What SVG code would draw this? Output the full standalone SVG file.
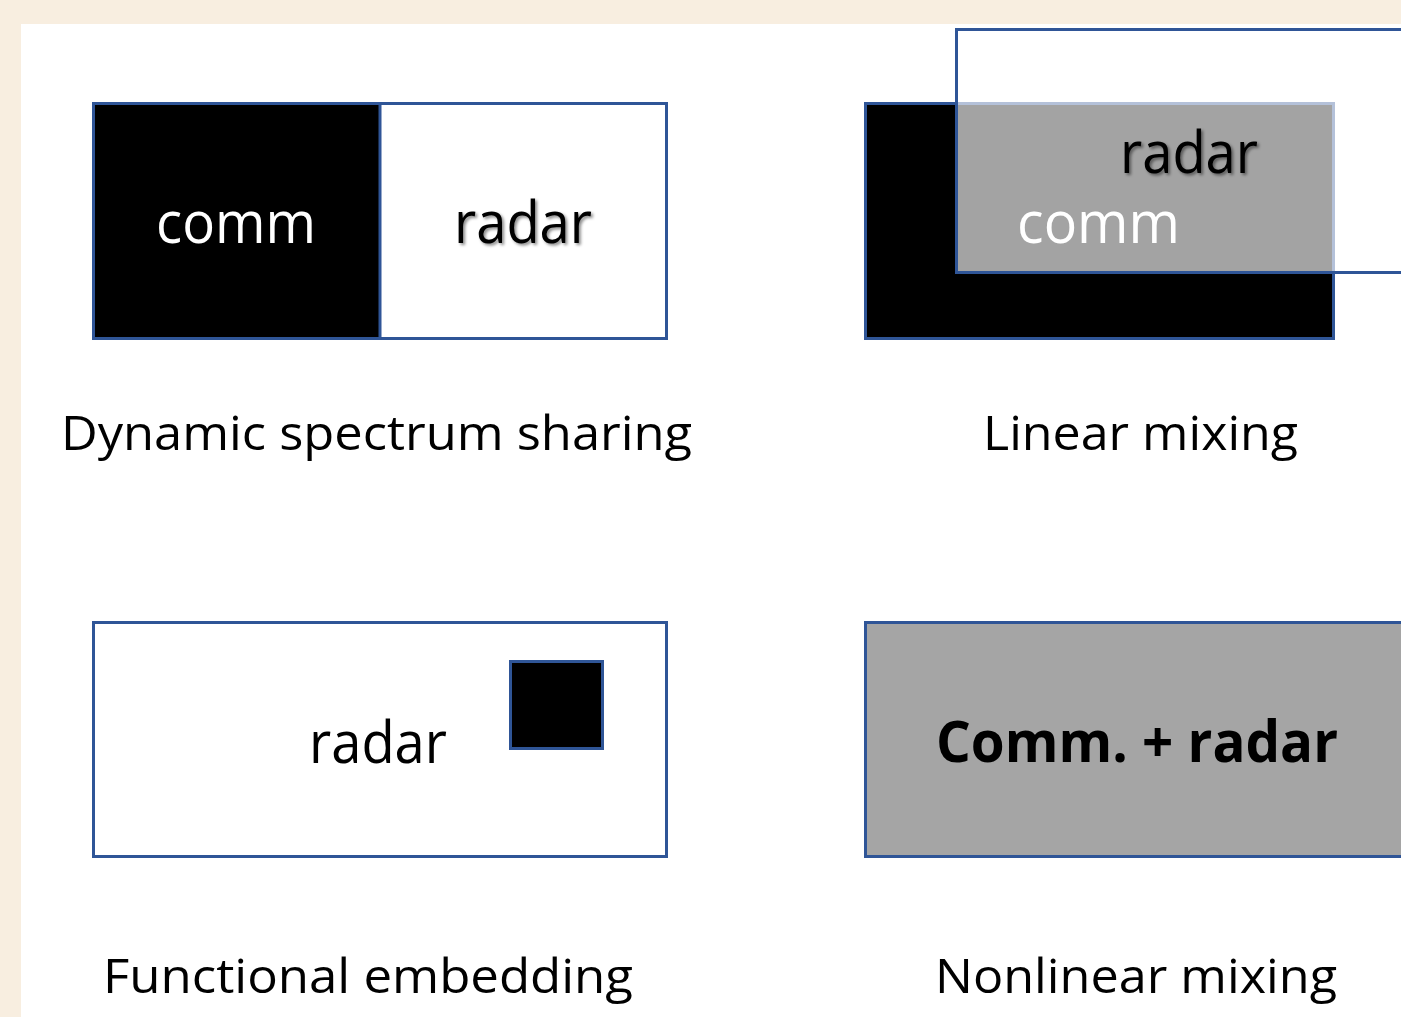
<svg xmlns="http://www.w3.org/2000/svg" width="1401" height="1017" viewBox="0 0 1401 1017">
<style>
.box{stroke:#2F5597;stroke-width:3}
.t{font-family:"Open Sans","Liberation Sans",sans-serif;text-anchor:middle}
.lbl{font-size:48px;fill:#000}
.in{font-size:58px}
.w{fill:#fff}
.k{fill:#000}
</style>
<defs>
<filter id="sh" x="-20%" y="-20%" width="140%" height="140%">
<feDropShadow dx="2" dy="2" stdDeviation="1.5" flood-color="#000" flood-opacity="0.45"/>
</filter>
</defs>
<rect x="0" y="0" width="1401" height="1017" fill="#F8EEE0"/>
<rect x="21" y="24" width="1380" height="993" fill="#fff"/>

<g id="dss">
<rect class="box" x="93.5" y="103.5" width="573" height="235" fill="#fff"/>
<rect class="box" x="93.5" y="103.5" width="286.5" height="235" fill="#000"/>
<text class="t in w" x="236" y="243" textLength="160" lengthAdjust="spacingAndGlyphs">comm</text>
<text class="t in k" x="523" y="243" filter="url(#sh)" textLength="138" lengthAdjust="spacingAndGlyphs">radar</text>
<text class="t lbl" x="376.5" y="450" textLength="631" lengthAdjust="spacingAndGlyphs">Dynamic spectrum sharing</text>
</g>

<g id="linear">
<rect class="box" x="865.5" y="103.5" width="468" height="235" fill="#000"/>
<rect class="box" x="956.5" y="29.5" width="600" height="243" fill="#fff" fill-opacity="0.64"/>
<text class="t in k" x="1189" y="173" filter="url(#sh)" textLength="138" lengthAdjust="spacingAndGlyphs">radar</text>
<text class="t in w" x="1098.5" y="243" textLength="163" lengthAdjust="spacingAndGlyphs">comm</text>
<text class="t lbl" x="1140.5" y="450" textLength="315" lengthAdjust="spacingAndGlyphs">Linear mixing</text>
</g>

<g id="embed">
<rect class="box" x="93.5" y="622.5" width="573" height="234" fill="#fff"/>
<rect class="box" x="510.5" y="661.5" width="92" height="87" fill="#000"/>
<text class="t in k" x="378" y="763" textLength="138" lengthAdjust="spacingAndGlyphs">radar</text>
<text class="t lbl" x="368" y="993" textLength="530" lengthAdjust="spacingAndGlyphs">Functional embedding</text>
</g>

<g id="nonlinear">
<rect class="box" x="865.5" y="622.5" width="700" height="234" fill="#A5A5A5"/>
<text class="t in k" x="1137" y="762" font-weight="bold" textLength="402" lengthAdjust="spacingAndGlyphs">Comm. + radar</text>
<text class="t lbl" x="1136" y="993" textLength="402" lengthAdjust="spacingAndGlyphs">Nonlinear mixing</text>
</g>

<g id="connectors"></g>
</svg>
